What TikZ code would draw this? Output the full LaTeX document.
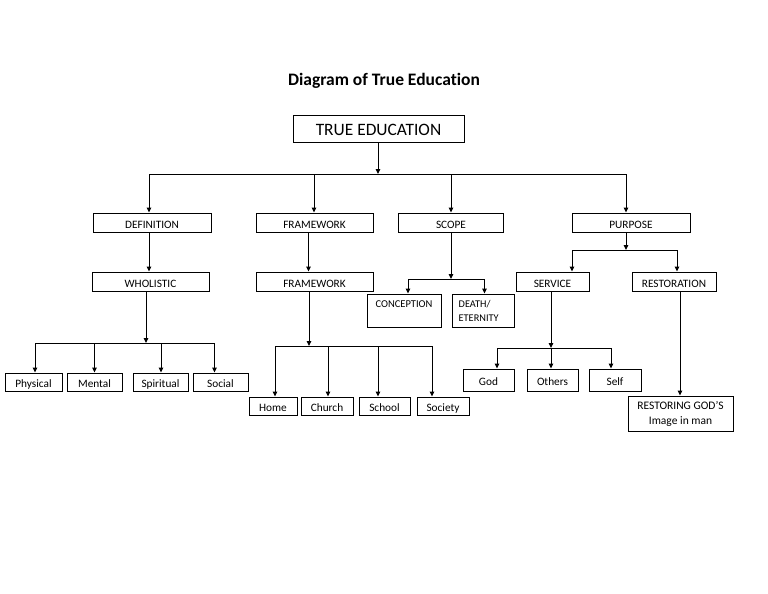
\documentclass[tikz,border=0pt]{standalone}
\usepackage{fontspec}
\setmainfont{Carlito}[Ligatures=NoCommon]
\usetikzlibrary{arrows.meta}
\begin{document}
\begin{tikzpicture}[x=1pt,y=-1pt,
  bx/.style={draw, line width=1pt, inner sep=0pt, text height=11pt, text depth=0pt, font=\fontsize{11.3}{13}\selectfont},
  ln/.style={line width=1pt},
  arr/.style={line width=1pt, -{Triangle[length=5pt,width=4.5pt]}}]
\useasboundingbox (0,0) rectangle (768,594);
\fill[white] (0,0) rectangle (768,594);
% title
\node[font=\bfseries\fontsize{17.5}{20}\selectfont] (title) at (384,80.5) {Diagram of True Education};
% nodes
\node[bx, minimum width=171, minimum height=27, text height=14.6pt, font=\fontsize{17.4}{20}\selectfont] (te) at (378.5,128.5) {TRUE EDUCATION};
\node[bx, minimum width=118, minimum height=19] (def) at (152,222.5) {DEFINITION};
\node[bx, minimum width=117, minimum height=19] (fw) at (314.5,222.5) {FRAMEWORK};
\node[bx, minimum width=105, minimum height=19] (sc) at (451,222.5) {SCOPE};
\node[bx, minimum width=118, minimum height=19] (pu) at (631,222.5) {PURPOSE};
\node[bx, minimum width=117, minimum height=19] (wh) at (150.5,281.5) {WHOLISTIC};
\node[bx, minimum width=117, minimum height=19] (fw2) at (314.5,281.5) {FRAMEWORK};
\node[bx, minimum width=74, minimum height=33] (con) at (404,310.5) {};
\node[anchor=base, inner sep=0pt, font=\fontsize{10.5}{12}\selectfont] (cont) at ([yshift=-13.7]con.north) {CONCEPTION};
\node[bx, minimum width=62, minimum height=33] (de) at (483,310.5) {};
\node[anchor=base west, align=left, inner sep=0pt, font=\fontsize{10.3}{14}\selectfont] (det) at ([xshift=7,yshift=-27.7]de.north west) {DEATH/\\ETERNITY};
\node[bx, minimum width=73, minimum height=19] (se) at (552.5,281.5) {SERVICE};
\node[bx, minimum width=84, minimum height=19] (re) at (674,281.5) {RESTORATION};
\node[bx, minimum width=51, minimum height=22] (god) at (488.5,380) {God};
\node[bx, minimum width=51, minimum height=22] (oth) at (552.5,380) {Others};
\node[bx, minimum width=52, minimum height=22] (self) at (615,380) {Self};
\node[draw, line width=1pt, inner sep=0pt, minimum width=105, minimum height=35, align=center, font=\fontsize{11.5}{15}\selectfont] (rg) at (680.5,413.5) {RESTORING GOD'S\\Image in man};
\node[bx, minimum width=57, minimum height=18] (phys) at (33.5,382) {Physical};
\node[bx, minimum width=55, minimum height=18] (ment) at (94.5,382) {Mental};
\node[bx, minimum width=55, minimum height=18] (spir) at (160.5,382) {Spiritual};
\node[bx, minimum width=55, minimum height=18] (soc) at (220.5,382) {Social};
\node[bx, minimum width=48, minimum height=18] (home) at (273,406) {Home};
\node[bx, minimum width=52, minimum height=18] (church) at (327,406) {Church};
\node[bx, minimum width=51, minimum height=18] (school) at (384.5,406) {School};
\node[bx, minimum width=52, minimum height=18] (society) at (443,406) {Society};
% coordinates
\coordinate (t0) at (378,174); \coordinate (tL) at (149,174); \coordinate (tR) at (626,174);
\coordinate (t2) at (314,174); \coordinate (t3) at (451,174);
\coordinate (f1) at (308.5,232);
\coordinate (w0) at (146,343); \coordinate (wL) at (35,343); \coordinate (wR) at (214.5,343);
\coordinate (w2) at (94.5,343); \coordinate (w3) at (161,343);
\coordinate (g0) at (309,346); \coordinate (gL) at (275,346); \coordinate (gR) at (432,346);
\coordinate (g2) at (328,346); \coordinate (g3) at (378,346);
\coordinate (s0) at (451,279); \coordinate (sL) at (408,279); \coordinate (sR) at (484.5,279);
\coordinate (p0) at (626,250); \coordinate (pL) at (572,250); \coordinate (pR) at (677,250);
\coordinate (v0) at (551,348); \coordinate (vL) at (497,348); \coordinate (vR) at (611,348);
\coordinate (r0) at (680,291);
% connectors
\draw[arr] (te.south -| t0) -- (t0);
\draw[ln] (tL) -- (tR);
\draw[arr] (tL) -- (tL |- def.north);
\draw[arr] (t2) -- (t2 |- fw.north);
\draw[arr] (t3) -- (t3 |- sc.north);
\draw[arr] (tR) -- (tR |- pu.north);
\draw[arr] (def.south -| tL) -- (tL |- wh.north);
\draw[arr] (f1) -- (f1 |- fw2.north);
% wholistic
\draw[arr] (wh.south -| w0) -- (w0);
\draw[ln] (wL) -- (wR);
\draw[arr] (wL) -- (wL |- phys.north);
\draw[arr] (w2) -- (w2 |- ment.north);
\draw[arr] (w3) -- (w3 |- spir.north);
\draw[arr] (wR) -- (wR |- soc.north);
% framework
\draw[arr] (fw2.south -| g0) -- (g0);
\draw[ln] (gL) -- (gR);
\draw[arr] (gL) -- (gL |- home.north);
\draw[arr] (g2) -- (g2 |- church.north);
\draw[arr] (g3) -- (g3 |- school.north);
\draw[arr] (gR) -- (gR |- society.north);
% scope
\draw[arr] (sc.south -| s0) -- (s0);
\draw[ln] (sL) -- (sR);
\draw[arr] (sL) -- (sL |- con.north);
\draw[arr] (sR) -- (sR |- de.north);
% purpose
\draw[arr] (pu.south -| p0) -- (p0);
\draw[ln] (pL) -- (pR);
\draw[arr] (pL) -- (pL |- se.north);
\draw[arr] (pR) -- (pR |- re.north);
\draw[arr] (se.south -| v0) -- (v0);
\draw[ln] (vL) -- (vR);
\draw[arr] (vL) -- (vL |- god.north);
\draw[arr] (v0) -- (v0 |- oth.north);
\draw[arr] (vR) -- (vR |- self.north);
\draw[arr] (r0) -- (r0 |- rg.north);
\end{tikzpicture}
\end{document}
